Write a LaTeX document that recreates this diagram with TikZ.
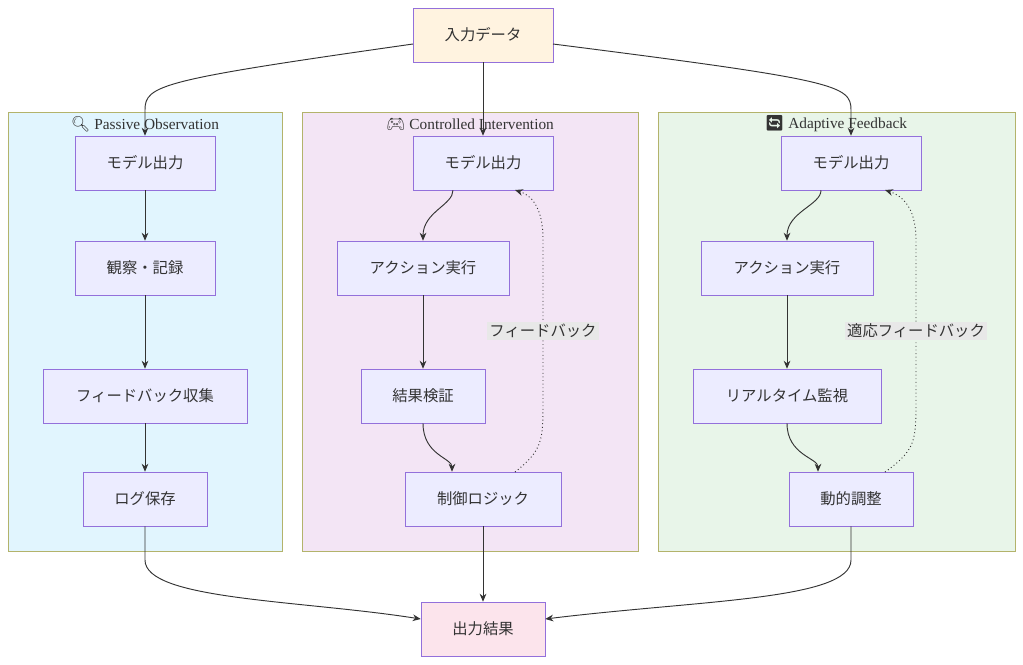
\documentclass[tikz,border=0pt]{standalone}
\usepackage{fontspec}
\setmainfont{Liberation Serif}
\newfontfamily\jp{Noto Sans CJK JP}
\newfontfamily\emo{Noto Emoji}
\usetikzlibrary{arrows.meta}
\definecolor{nfill}{HTML}{ECECFF}
\definecolor{nbord}{HTML}{9370DB}
\definecolor{cbord}{HTML}{B3B36B}
\tikzset{
 box/.style={draw=nbord,fill=nfill,minimum height=40.5pt,font=\jp\fontsize{11.5}{12}\selectfont,text=black!80,inner sep=0pt},
 clus/.style={draw=cbord,line width=0.6pt},
 ed/.style={draw=black!80,line width=0.7pt,-{Stealth[length=6pt,width=5pt]}},
 dot/.style={ed,dotted},
 lab/.style={fill=black!9,font=\jp\fontsize{11.5}{12}\selectfont,text=black!80,inner sep=1.5pt},
 ttl/.style={font=\fontsize{11.5}{12}\selectfont,text=black!80}
}
\begin{document}
\begin{tikzpicture}[x=0.75pt,y=-0.75pt]
\useasboundingbox (0,0) rectangle (1023,664);
\fill[white] (0,0) rectangle (1023,664);
\draw[clus,fill={rgb,255:red,225;green,245;blue,254}] (8,112) rectangle (282,551);
\draw[clus,fill={rgb,255:red,243;green,229;blue,245}] (302,112) rectangle (638,551);
\draw[clus,fill={rgb,255:red,232;green,245;blue,233}] (658,112) rectangle (1015,551);
\node[ttl] (ta) at (145,124) {{\emo 🔍} Passive Observation};
\node[ttl] (tb) at (470,124) {{\emo 🎮} Controlled Intervention};
\node[ttl] (tc) at (836,124) {{\emo 🔄} Adaptive Feedback};

\node[box,minimum width=105pt,fill={rgb,255:red,255;green,243;blue,224}] (in) at (483,35) {入力データ};
\node[box,minimum width=93pt,fill={rgb,255:red,252;green,228;blue,236}] (out) at (483,629) {出力結果};

\node[box,minimum width=105pt] (a1) at (145,163) {モデル出力};
\node[box,minimum width=105pt] (a2) at (145,268) {観察・記録};
\node[box,minimum width=153pt] (a3) at (145,396) {フィードバック収集};
\node[box,minimum width=93pt] (a4) at (145,499) {ログ保存};

\node[box,minimum width=105pt] (b1) at (483,163) {モデル出力};
\node[box,minimum width=129pt] (b2) at (423,268) {アクション実行};
\node[box,minimum width=93pt] (b3) at (423,396) {結果検証};
\node[box,minimum width=117pt] (b4) at (483,499) {制御ロジック};

\node[box,minimum width=105pt] (c1) at (851,163) {モデル出力};
\node[box,minimum width=129pt] (c2) at (787,268) {アクション実行};
\node[box,minimum width=141pt] (c3) at (787,396) {リアルタイム監視};
\node[box,minimum width=93pt] (c4) at (851,499) {動的調整};

\coordinate (inl) at (413,44);
\coordinate (inr) at (553,44);
\draw[ed] (inl) .. controls (160,80) and (145,85) .. (145,110) -- (a1.north);
\draw[ed] (in) -- (b1);
\draw[ed] (inr) .. controls (836,80) and (851,85) .. (851,110) -- (c1.north);

\draw[ed] (a1) -- (a2);
\draw[ed] (a2) -- (a3);
\draw[ed] (a3) -- (a4);

\draw[ed] (b1.south -| 453,0) .. controls (453,205) and (423,212) .. (b2.north);
\draw[ed] (b2) -- (b3);
\draw[ed] (b3.south) .. controls (423,455) and (452,458) .. (b4.north -| 452,0);
\draw[ed] (b4) -- (out);
\draw[dot] (515,472) .. controls (543,450) and (543,440) .. (543,400) -- (543,240) .. controls (543,205) and (530,195) .. (515,190);
\node[lab] (lb) at (543,331) {フィードバック};

\draw[ed] (c1.south -| 821,0) .. controls (821,205) and (787,212) .. (c2.north);
\draw[ed] (c2) -- (c3);
\draw[ed] (c3.south) .. controls (787,455) and (818,458) .. (c4.north -| 818,0);
\draw[dot] (885,472) .. controls (916,450) and (916,440) .. (916,400) -- (916,240) .. controls (916,205) and (900,195) .. (885,190);
\node[lab] (lc) at (916,331) {適応フィードバック};

\draw[ed] (a4.south) -- (145,560) .. controls (145,600) and (300,600) .. (out.west |- 0,619);
\draw[ed] (c4.south) -- (851,560) .. controls (851,600) and (700,600) .. (out.east |- 0,619);
\end{tikzpicture}
\end{document}
